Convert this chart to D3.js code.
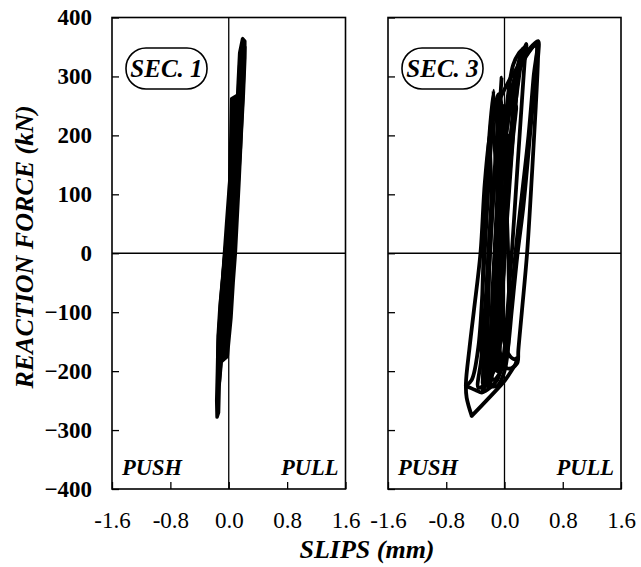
<!doctype html>
<html>
<head>
<meta charset="utf-8">
<title>Reaction force vs slips</title>
<script src="https://cdn.jsdelivr.net/npm/d3@7"></script>
<style>
  body { margin: 0; background: #fff; }
  svg { display: block; }
  text { font-family: "Liberation Serif", "Times New Roman", serif; fill: #000; }
</style>
</head>
<body>
<svg width="641" height="567"></svg>
<script>
// tick values
var yTicks = [-400, -300, -200, -100, 0, 100, 200, 300, 400];
var xTicks = [-1.6, -0.8, 0, 0.8, 1.6];
var xTickLabels = ["-1.6", "-0.8", "0.0", "0.8", "1.6"];

// SEC. 1 loops [slip mm, force kN]
var sec1Loops = [
  [[-0.02,0],[0.04,100],[0.09,200],[0.11,240],[0.08,230],[0.03,150],[-0.03,50],[-0.07,-20],[-0.11,-100],[-0.13,-170],[-0.11,-172],[-0.05,-100],[-0.02,0]],
  [[0.04,0],[0.09,100],[0.14,200],[0.17,265],[0.12,268],[0.04,262],[0.03,200],[0.01,100],[-0.04,0],[-0.1,-80],[-0.14,-140],[-0.15,-190],[-0.12,-188],[-0.06,-120],[0.0,-60],[0.04,0]],
  [[0.07,0],[0.12,100],[0.16,180],[0.19,260],[0.21,320],[0.22,350],[0.19,352],[0.15,320],[0.13,270],[0.09,220],[0.05,150],[0.0,60],[-0.05,0],[-0.11,-80],[-0.14,-150],[-0.15,-220],[-0.13,-222],[-0.1,-180],[-0.02,-120],[0.04,-50],[0.07,0]],
  [[0.09,0],[0.14,120],[0.17,200],[0.2,270],[0.22,330],[0.22,360],[0.19,364],[0.15,340],[0.13,290],[0.12,262],[0.06,200],[0.03,120],[-0.02,40],[-0.06,-10],[-0.12,-90],[-0.145,-140],[-0.155,-200],[-0.165,-250],[-0.16,-278],[-0.14,-270],[-0.13,-220],[-0.11,-185],[-0.02,-175],[0.03,-110],[0.06,-50],[0.09,0]]
];

// SEC. 3 loops [slip mm, force kN]
var sec3Loops = [
  [[0.0,0],[0.06,100],[0.12,200],[0.16,250],[0.13,240],[0.06,140],[-0.02,0],[-0.08,-100],[-0.13,-180],[-0.11,-175],[-0.05,-100],[0.0,0]],
  [[-0.05,0],[0.03,120],[0.1,220],[0.17,300],[0.22,335],[0.25,346],[0.22,335],[0.15,250],[0.06,120],[-0.04,0],[-0.12,-100],[-0.2,-200],[-0.24,-225],[-0.2,-222],[-0.12,-130],[-0.05,0]],
  [[-0.12,0],[-0.06,100],[0.0,200],[0.05,270],[0.12,320],[0.2,340],[0.28,350],[0.3,355],[0.28,330],[0.24,260],[0.18,150],[0.1,0],[0.04,-100],[-0.02,-180],[-0.1,-215],[-0.2,-228],[-0.3,-235],[-0.25,-215],[-0.18,-120],[-0.12,0]],
  [[-0.21,0],[-0.13,150],[-0.07,240],[-0.04,298],[-0.06,260],[-0.12,160],[-0.2,40],[-0.26,-80],[-0.32,-180],[-0.36,-228],[-0.3,-225],[-0.24,-150],[-0.21,0]],
  [[-0.53,-225],[-0.4,-232],[-0.3,-236],[-0.32,-150],[-0.3,-50],[-0.27,60],[-0.22,180],[-0.15,276],[-0.16,230],[-0.2,160],[-0.25,50],[-0.3,-60],[-0.36,-160],[-0.45,-215],[-0.53,-225]],
  [[-0.45,-276],[-0.52,-245],[-0.53,-221],[-0.48,-160],[-0.42,-97],[-0.33,0],[-0.27,120],[-0.2,200],[-0.1,250],[0.05,290],[0.2,320],[0.33,345],[0.46,360],[0.46,330],[0.43,250],[0.38,140],[0.31,0],[0.24,-97],[0.19,-165],[0.18,-185],[0.13,-193],[0.01,-215],[-0.21,-245],[-0.45,-276]],
  [[-0.24,-225],[-0.2,-150],[-0.12,-60],[-0.06,60],[-0.02,150],[0.08,250],[0.2,310],[0.3,335],[0.43,352],[0.42,300],[0.35,200],[0.26,80],[0.18,0],[0.1,-97],[0.05,-160],[0.0,-200],[-0.1,-225],[-0.24,-225]],
  [[-0.15,-100],[-0.1,0],[-0.05,100],[0.0,180],[0.1,260],[0.22,320],[0.35,345],[0.44,355],[0.4,300],[0.33,200],[0.24,100],[0.15,0],[0.08,-100],[0.03,-160],[-0.05,-200],[-0.15,-215],[-0.2,-200],[-0.15,-100]],
  [[-0.18,-150],[-0.14,-50],[-0.1,50],[-0.08,150],[-0.1,265],[-0.07,270],[-0.02,200],[0.02,100],[0.05,0],[0.06,-100],[0.02,-180],[-0.1,-200],[-0.18,-150]],
  [[-0.25,-100],[-0.2,0],[-0.15,100],[-0.1,170],[0.0,230],[0.1,280],[0.25,346],[0.2,300],[0.1,200],[0.05,100],[0.0,0],[-0.05,-100],[-0.1,-180],[-0.2,-210],[-0.25,-100]],
  [[-0.28,-180],[-0.25,-100],[-0.22,0],[-0.18,100],[-0.2,200],[-0.17,230],[-0.12,150],[-0.08,50],[-0.05,-50],[-0.06,-150],[-0.15,-200],[-0.28,-180]],
  [[-0.1,-150],[-0.06,-60],[-0.03,40],[0.02,140],[0.06,200],[0.03,120],[0.0,30],[-0.02,-60],[-0.02,-140],[0.05,-170],[0.14,-180],[0.17,-178],[0.13,-192],[0.03,-195],[-0.1,-150]],
  [[-0.2,-200],[-0.16,-100],[-0.12,0],[-0.08,100],[-0.04,200],[-0.02,250],[-0.05,230],[-0.09,120],[-0.13,20],[-0.17,-80],[-0.2,-200]],
  [[-0.08,-200],[-0.04,-100],[0.0,0],[0.03,100],[0.05,150],[0.02,80],[-0.03,-20],[-0.07,-120],[-0.08,-200]],
  [[-0.3,-220],[-0.27,-150],[-0.22,-50],[-0.18,50],[-0.15,120],[-0.18,60],[-0.23,-40],[-0.27,-130],[-0.3,-220]]
];

var svg = d3.select("svg");
var top0 = 17.5, bottom0 = 489;
var panels = [
  { x0: 112, x1: 345.5, loops: sec1Loops, label: "SEC. 1", filled: true, yLabels: true },
  { x0: 388, x1: 621, loops: sec3Loops, label: "SEC. 3", filled: false, yLabels: false }
];

var y = d3.scaleLinear().domain([-400, 400]).range([bottom0, top0]);

panels.forEach(function (p) {
  var x = d3.scaleLinear().domain([-1.6, 1.6]).range([p.x0, p.x1]);
  var g = svg.append("g");

  // y axis, ticks point inward
  var yAxis = d3.axisLeft(y).tickValues(yTicks).tickSizeInner(-7).tickSizeOuter(0).tickPadding(20);
  if (!p.yLabels) yAxis.tickFormat("");
  var ya = g.append("g").attr("transform", "translate(" + p.x0 + ",0)").call(yAxis);
  ya.select(".domain").remove();
  ya.selectAll("line").attr("stroke", "#000").attr("stroke-width", 1.3);
  ya.selectAll("text").attr("font-size", 23).attr("font-weight", "bold")
    .style("font-family", '"Liberation Serif", serif');

  // x axis
  var xAxis = d3.axisBottom(x).tickValues(xTicks).tickSizeInner(-7).tickSizeOuter(0).tickPadding(23)
    .tickFormat(function (d, i) { return xTickLabels[i]; });
  var xa = g.append("g").attr("transform", "translate(0," + bottom0 + ")").call(xAxis);
  xa.select(".domain").remove();
  xa.selectAll("line").attr("stroke", "#000").attr("stroke-width", 1.3);
  xa.selectAll("text").attr("font-size", 23)
    .style("font-family", '"Liberation Serif", serif');

  // zero lines
  g.append("line").attr("x1", p.x0).attr("x2", p.x1).attr("y1", y(0)).attr("y2", y(0))
    .attr("stroke", "#000").attr("stroke-width", 1.3);
  g.append("line").attr("x1", x(0)).attr("x2", x(0)).attr("y1", top0).attr("y2", bottom0)
    .attr("stroke", "#000").attr("stroke-width", 1.3);

  // loops
  var line = d3.line()
    .x(function (d) { return x(d[0]); })
    .y(function (d) { return y(d[1]); })
    .curve(p.filled ? d3.curveLinear : d3.curveCatmullRom.alpha(0.5));
  g.selectAll("path.loop").data(p.loops).enter().append("path")
    .attr("class", "loop")
    .attr("d", line)
    .attr("fill", p.filled ? "#000" : "none")
    .attr("stroke", "#000")
    .attr("stroke-width", p.filled ? 3.5 : 3.8)
    .attr("stroke-linejoin", "round")
    .attr("stroke-linecap", "round");

  // frame
  g.append("rect").attr("x", p.x0).attr("y", top0)
    .attr("width", p.x1 - p.x0).attr("height", bottom0 - top0)
    .attr("fill", "none").attr("stroke", "#000").attr("stroke-width", 1.6);

  // section label
  var lx = p.x0 + 14, ly = 48;
  g.append("rect").attr("x", lx).attr("y", ly).attr("width", 81).attr("height", 41)
    .attr("rx", 20).attr("ry", 20)
    .attr("fill", "#fff").attr("stroke", "#000").attr("stroke-width", 1.6);
  g.append("text").attr("x", lx + 40.5).attr("y", ly + 29).attr("text-anchor", "middle")
    .attr("font-size", 25).attr("font-weight", "bold").attr("font-style", "italic")
    .text(p.label);

  // push / pull
  g.append("text").attr("x", p.x0 + 10).attr("y", 475)
    .attr("font-size", 22.5).attr("font-weight", "bold").attr("font-style", "italic").text("PUSH");
  g.append("text").attr("x", p.x1 - 7).attr("y", 475).attr("text-anchor", "end")
    .attr("font-size", 22.5).attr("font-weight", "bold").attr("font-style", "italic").text("PULL");
});

// axis titles
svg.append("text")
  .attr("transform", "translate(33,247) rotate(-90)")
  .attr("text-anchor", "middle")
  .attr("font-size", 26).attr("font-weight", "bold").attr("font-style", "italic")
  .text("REACTION FORCE (kN)");

svg.append("text")
  .attr("x", 367).attr("y", 558)
  .attr("text-anchor", "middle")
  .attr("font-size", 26).attr("font-weight", "bold").attr("font-style", "italic")
  .text("SLIPS (mm)");
</script>
</body>
</html>
